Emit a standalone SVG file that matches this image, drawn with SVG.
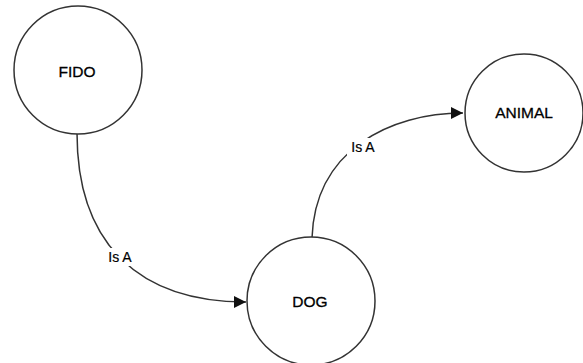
<svg xmlns="http://www.w3.org/2000/svg" width="583" height="363" viewBox="0 0 583 363">
  <defs>
    <marker id="arrow" viewBox="0 0 10 10" refX="10" refY="5" markerWidth="14" markerHeight="12" markerUnits="userSpaceOnUse" orient="auto">
      <path d="M0,0 L10,5 L0,10 Z" fill="#111"/>
    </marker>
    <style>
      .node circle { fill: #fff; stroke: #333; stroke-width: 1.5; }
      .node text { font-family: "Liberation Sans", Arial, sans-serif; font-size: 15.5px; fill: #000; stroke: #000; stroke-width: 0.3; text-anchor: middle; dominant-baseline: central; }
      .edge { fill: none; stroke: #333; stroke-width: 1.5; marker-end: url(#arrow); }
      .label-bg { fill: #fff; }
      .label { font-family: "Liberation Sans", Arial, sans-serif; font-size: 14px; fill: #000; stroke: #000; stroke-width: 0.2; text-anchor: middle; dominant-baseline: central; }
    </style>
  </defs>
  <rect width="583" height="363" fill="#fff"/>

  <g id="connectors">
    <path class="edge" d="M77,133 C77,245 140,302 246,302"/>
    <rect class="label-bg" x="104" y="248" width="32" height="18"/>
    <text class="label" x="120" y="257">Is A</text>

    <path class="edge" d="M312,238 C315,150 390,113 463,113"/>
    <rect class="label-bg" x="347" y="138" width="32" height="18"/>
    <text class="label" x="363" y="147">Is A</text>
  </g>

  <g id="node-fido" class="node">
    <circle cx="78" cy="70" r="64"/>
    <text x="77" y="71">FIDO</text>
  </g>

  <g id="node-dog" class="node">
    <circle cx="311" cy="301" r="64"/>
    <text x="310" y="301">DOG</text>
  </g>

  <g id="node-animal" class="node">
    <circle cx="524" cy="113" r="59"/>
    <text x="524" y="112">ANIMAL</text>
  </g>
</svg>
